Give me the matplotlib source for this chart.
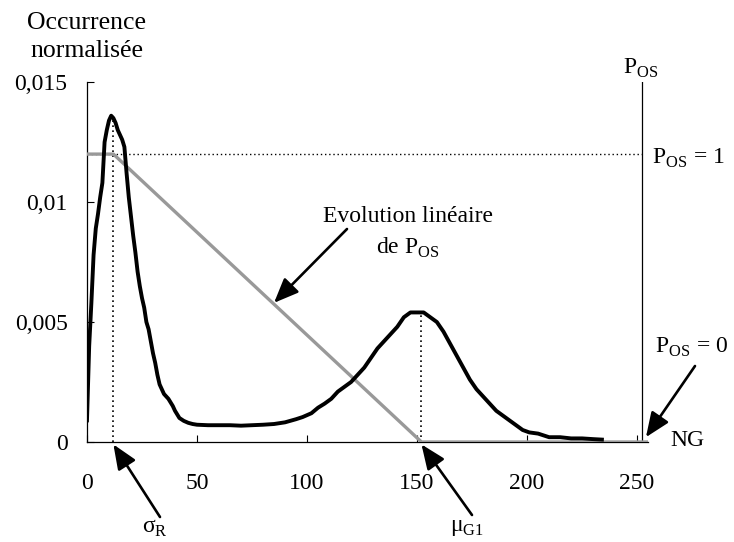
import matplotlib
matplotlib.use("Agg")
import matplotlib.pyplot as plt

# données
ng = [0, 1, 2, 3, 4, 5, 6, 7, 8, 9, 10, 11, 12, 13, 14, 16, 17, 18, 19, 20,
      21, 22, 23, 24, 25, 26, 27, 28, 29, 30, 31, 32, 33, 34, 35, 37, 39, 40,
      42, 44, 46, 48, 50, 55, 60, 65, 70, 75, 80, 85, 90, 95, 98, 102, 105,
      108, 111, 114, 117, 120, 123, 126, 129, 132, 135, 138, 141, 144, 147,
      150, 153, 156, 159, 162, 165, 168, 171, 174, 177, 180, 183, 186, 189,
      192, 195, 198, 201, 205, 210, 215, 220, 225, 230, 234]
occurrence = [0.0009, 0.0040, 0.0058, 0.0078, 0.0089, 0.0095, 0.0102, 0.0108,
              0.0125, 0.0130, 0.0134, 0.0136, 0.0135, 0.0133, 0.0130, 0.0126,
              0.0123, 0.0112, 0.0102, 0.0094, 0.0086, 0.0079, 0.0071, 0.0065,
              0.0060, 0.0056, 0.0050, 0.0047, 0.0042, 0.0037, 0.0033, 0.0028,
              0.0024, 0.0022, 0.0020, 0.0018, 0.0015, 0.0013, 0.0010, 0.00088,
              0.0008, 0.00075, 0.00072, 0.0007, 0.0007, 0.0007, 0.00068,
              0.0007, 0.00072, 0.00075, 0.00082, 0.00095, 0.00104, 0.0012,
              0.00143, 0.0016, 0.0018, 0.0021, 0.0023, 0.0025, 0.0028, 0.0031,
              0.0035, 0.0039, 0.0042, 0.0045, 0.0048, 0.0052, 0.0054, 0.0054,
              0.0054, 0.0052, 0.0050, 0.0046, 0.0041, 0.0036, 0.0031, 0.0026,
              0.0022, 0.0019, 0.0016, 0.0013, 0.0011, 0.0009, 0.0007, 0.0005,
              0.0004, 0.00035, 0.0002, 0.0002, 0.00015, 0.00015, 0.00012,
              0.0001]

sigma_r = 12
mu_g1 = 152
pos_level = 0.012       # P_OS = 1
ng_max = 255
pos_axis_x = 252
pos_x = [0, sigma_r, mu_g1, ng_max]
pos_y = [pos_level, pos_level, 0, 0]

x_ticks = [0, 50, 100, 150, 200, 250]
y_ticks = [0, 0.005, 0.01, 0.015]
y_labels = ["0", "0,005", "0,01", "0,015"]

plt.rcParams["font.family"] = ["Liberation Serif", "DejaVu Serif"]
plt.rcParams["mathtext.fontset"] = "custom"
plt.rcParams["mathtext.rm"] = "Liberation Serif"
plt.rcParams["font.size"] = 17

fig = plt.figure(figsize=(7.34, 5.42), dpi=100)
ax = fig.add_axes([0.1185, 0.1845, 0.7645, 0.664])

# traits pointillés
ax.plot([0, pos_axis_x], [pos_level, pos_level], color="black", ls=(0, (1, 2)), lw=1.0)
ax.plot([sigma_r, sigma_r], [0, max(occurrence)], color="black", ls=(0, (1, 2)), lw=1.2)
ax.plot([mu_g1, mu_g1], [0, 0.0054], color="black", ls=(0, (1, 2)), lw=1.2)

# P_OS linéaire
ax.plot(pos_x, pos_y, color="#999999", lw=2.4, solid_capstyle="butt", zorder=3)
# histogramme
ax.plot(ng, occurrence, color="black", lw=2.8, solid_joinstyle="round", zorder=4)

# axe secondaire P_OS
ax.plot([pos_axis_x, pos_axis_x], [0, 0.015], color="black", lw=0.9)

ax.set_xlim(0, ng_max)
ax.set_ylim(0, 0.015)
ax.spines["top"].set_visible(False)
ax.spines["right"].set_visible(False)
ax.spines["bottom"].set_bounds(0, ng_max)
ax.set_xticks(x_ticks)
ax.set_yticks(y_ticks)
ax.set_yticklabels(y_labels)
ax.tick_params(axis="both", direction="in", length=5, width=0.8)
ax.tick_params(axis="x", pad=22)
ax.tick_params(axis="y", pad=14)
ax.spines["left"].set_linewidth(0.9)
ax.spines["bottom"].set_linewidth(0.9)

# textes
fig.text(87 / 734, 1 - 37 / 542, "Occurrence\nnormalisée", ha="center", va="center",
         linespacing=1.3, fontsize=18.5)
fig.text(641 / 734, 1 - 68 / 542, r"P$_{\mathrm{OS}}$", ha="center", va="center")
fig.text(652 / 734, 1 - 158 / 542, r"P$_{\mathrm{OS}}$ = 1", ha="left", va="center")
fig.text(655 / 734, 1 - 347 / 542, r"P$_{\mathrm{OS}}$ = 0", ha="left", va="center")
fig.text(670 / 734, 1 - 441 / 542, "NG", ha="left", va="center")
fig.text(408 / 734, 1 - 233 / 542, "Evolution linéaire\nde P$_{\\mathrm{OS}}$",
         ha="center", va="center", linespacing=1.45)

arrow = dict(arrowstyle="-|>,head_length=0.6,head_width=0.25", color="black",
             lw=1.9, mutation_scale=25, shrinkA=0, shrinkB=0)
ax.annotate("", xy=(85, 0.0058), xytext=(347 / 734, 1 - 229 / 542),
            textcoords="figure fraction", arrowprops=arrow)
ax.annotate("", xy=(ng_max - 1, 0.0002), xytext=(695 / 734, 1 - 366 / 542),
            textcoords="figure fraction", arrowprops=arrow)
ax.annotate("", xy=(sigma_r, -0.0001), xytext=(160 / 734, 1 - 517 / 542),
            textcoords="figure fraction", arrowprops=arrow, annotation_clip=False)
ax.annotate("", xy=(mu_g1, -0.0001), xytext=(472 / 734, 1 - 515 / 542),
            textcoords="figure fraction", arrowprops=arrow, annotation_clip=False)
fig.text(155 / 734, 1 - 528 / 542, "σ$_{\\mathrm{R}}$", ha="center", va="center")
fig.text(467 / 734, 1 - 528 / 542, "μ$_{\\mathrm{G1}}$", ha="center", va="center")

fig.savefig("out.png", dpi=100)
